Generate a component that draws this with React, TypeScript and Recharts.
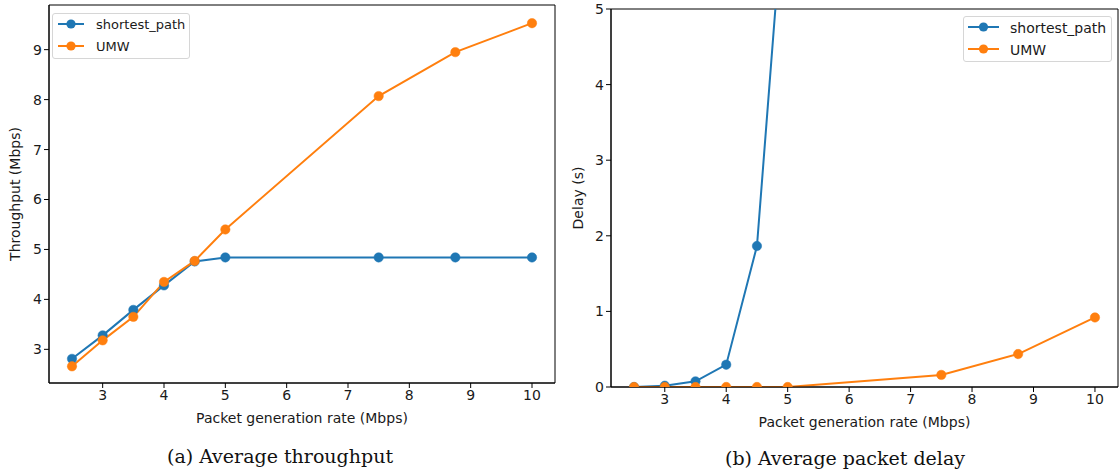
import React from 'react';
import { LineChart, Line, XAxis, YAxis, Legend, ReferenceArea } from 'recharts';

// packet generation rate (Mbps)
const rates = [2.5, 3, 3.5, 4, 4.5, 5, 7.5, 8.75, 10];

// (a) average throughput (Mbps)
const throughputShortest = [2.81, 3.28, 3.79, 4.28, 4.76, 4.84, 4.84, 4.84, 4.84];
const throughputUMW = [2.66, 3.18, 3.65, 4.35, 4.77, 5.4, 8.07, 8.95, 9.53];

// (b) average packet delay (s) - shortest_path runs off the top after 4.5
const delayShortest = [0.0, 0.017, 0.075, 0.295, 1.865, 7.1, 14, 16, 17];
const delayUMW = [0, 0, 0, 0, 0, 0, 0.16, 0.436, 0.92];

const xTicks = [3, 4, 5, 6, 7, 8, 9, 10];
const throughputTicks = [3, 4, 5, 6, 7, 8, 9];
const delayTicks = [0, 1, 2, 3, 4, 5];

const seriesNames = ['shortest_path', 'UMW'];

const BLUE = '#1f77b4';
const ORANGE = '#ff7f0e';
const COLORS = [BLUE, ORANGE];
const FONT = 'DejaVu Sans';
const TEXT = '#1a1a1a';
const X_DOMAIN = [2.125, 10.375];

const throughputData = rates.map((r, i) => ({
  rate: r,
  shortest: throughputShortest[i],
  umw: throughputUMW[i],
}));

const delayData = rates.map((r, i) => ({
  rate: r,
  shortest: delayShortest[i],
  umw: delayUMW[i],
}));

const tickStyle = { fill: TEXT, fontSize: 14, fontFamily: FONT };

function LegendBox({
  width,
  fontSize,
  lineStart,
  lineEnd,
  textX,
}: {
  width: number;
  fontSize: number;
  lineStart: number;
  lineEnd: number;
  textX: number;
}) {
  return (
    <div
      style={{
        position: 'relative',
        width,
        height: 46,
        boxSizing: 'border-box',
        border: '1px solid #d6d6d6',
        borderRadius: 3,
        background: 'rgba(255,255,255,0.8)',
      }}
    >
      {seriesNames.map((name, i) => (
        <React.Fragment key={name}>
          <svg
            width={lineEnd + 6}
            height={12}
            style={{ position: 'absolute', left: 0, top: 11 + i * 22 - 7 }}
          >
            <line x1={lineStart} x2={lineEnd} y1={6} y2={6} stroke={COLORS[i]} strokeWidth={2} />
            <circle cx={(lineStart + lineEnd) / 2} cy={6} r={4.6} fill={COLORS[i]} />
          </svg>
          <span
            style={{
              position: 'absolute',
              left: textX,
              top: 11 + i * 22 - 10,
              lineHeight: '20px',
              fontSize,
              fontFamily: FONT,
              color: TEXT,
              whiteSpace: 'nowrap',
            }}
          >
            {name}
          </span>
        </React.Fragment>
      ))}
    </div>
  );
}

function Panel({
  data,
  left,
  width,
  top,
  right,
  bottom,
  yWidth,
  yDomain,
  yTicks,
  yLabel,
  yLabelOffset,
  legendPos,
  legendProps,
}: any) {
  return (
    <div style={{ position: 'absolute', left, top: 0 }}>
      <LineChart width={width} height={473} data={data} margin={{ top, right, left: 0, bottom }}>
        <XAxis
          dataKey="rate"
          type="number"
          domain={X_DOMAIN}
          ticks={xTicks}
          allowDataOverflow
          height={45}
          stroke="#000"
          tickSize={5}
          tick={tickStyle}
          label={{
            value: 'Packet generation rate (Mbps)',
            position: 'insideBottom',
            offset: 5,
            style: { fill: TEXT, fontSize: 14, fontFamily: FONT },
          }}
        />
        <YAxis
          type="number"
          domain={yDomain}
          ticks={yTicks}
          allowDataOverflow
          width={yWidth}
          stroke="#000"
          tickSize={5}
          tick={tickStyle}
          label={{
            value: yLabel,
            angle: -90,
            position: 'insideLeft',
            offset: yLabelOffset,
            style: { textAnchor: 'middle', fill: TEXT, fontSize: 14, fontFamily: FONT },
          }}
        />
        {/* axes frame (top and right spines) */}
        <ReferenceArea
          x1={X_DOMAIN[0]}
          x2={X_DOMAIN[1]}
          y1={yDomain[0]}
          y2={yDomain[1]}
          fill="none"
          fillOpacity={0}
          stroke="#000"
          strokeWidth={1}
          ifOverflow="visible"
        />
        <Legend
          layout="horizontal"
          verticalAlign="middle"
          wrapperStyle={{ top: legendPos.top, left: legendPos.left, width: 'auto', height: 'auto' }}
          content={() => <LegendBox {...legendProps} />}
        />
        <Line
          dataKey="shortest"
          name={seriesNames[0]}
          stroke={BLUE}
          strokeWidth={2}
          dot={{ r: 4.7, fill: BLUE, stroke: BLUE, strokeWidth: 0.5 }}
          activeDot={false}
          isAnimationActive={false}
        />
        <Line
          dataKey="umw"
          name={seriesNames[1]}
          stroke={ORANGE}
          strokeWidth={2}
          dot={{ r: 4.7, fill: ORANGE, stroke: ORANGE, strokeWidth: 0.5 }}
          activeDot={false}
          isAnimationActive={false}
        />
      </LineChart>
    </div>
  );
}

const captionStyle: React.CSSProperties = {
  position: 'absolute',
  fontFamily: 'DejaVu Serif',
  fontSize: 19,
  color: '#111',
  whiteSpace: 'nowrap',
  transform: 'translate(-50%, -50%)',
};

export default function App() {
  return (
    <div
      style={{
        position: 'absolute',
        left: 0,
        top: 0,
        width: 1119,
        height: 473,
        background: '#fff',
        overflow: 'hidden',
      }}
    >
      <Panel
        data={throughputData}
        left={0}
        width={560}
        top={5}
        right={5}
        bottom={45}
        yWidth={49}
        yDomain={[2.326, 9.894]}
        yTicks={throughputTicks}
        yLabel="Throughput (Mbps)"
        yLabelOffset={15}
        legendPos={{ top: 13, left: 52 }}
        legendProps={{ width: 138, fontSize: 13, lineStart: 5, lineEnd: 31, textX: 43 }}
      />
      <Panel
        data={delayData}
        left={560}
        width={559}
        top={9}
        right={1}
        bottom={41}
        yWidth={51}
        yDomain={[0, 5]}
        yTicks={delayTicks}
        yLabel="Delay (s)"
        yLabelOffset={18}
        legendPos={{ top: 16, left: 403 }}
        legendProps={{ width: 149, fontSize: 14, lineStart: 4, lineEnd: 35, textX: 46 }}
      />
      <div style={{ ...captionStyle, left: 280, top: 456 }}>(a) Average throughput</div>
      <div style={{ ...captionStyle, left: 845, top: 458 }}>(b) Average packet delay</div>
    </div>
  );
}
